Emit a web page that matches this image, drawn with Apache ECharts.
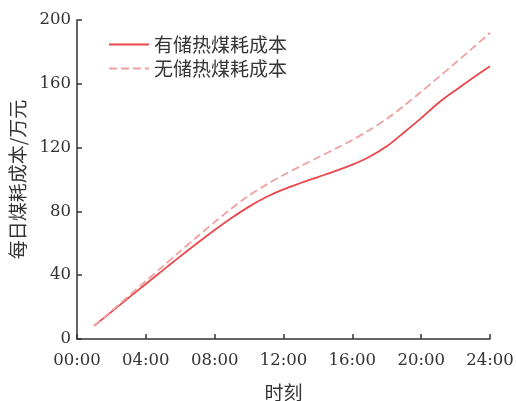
<!DOCTYPE html>
<html>
<head>
<meta charset="utf-8">
<script src="https://cdn.jsdelivr.net/npm/echarts@6/dist/echarts.min.js"></script>
<style>html,body{margin:0;padding:0;background:#fff;}#c{width:516px;height:401px;}</style>
</head>
<body>
<div id="c"></div>
<script>
const hours = [1,2,3,4,5,6,7,8,9,10,11,12,13,14,15,16,17,18,19,20,21,22,23,24];
const withStorage = [8.3,17,25.8,34.5,43.2,51.8,60.2,68.3,76,83,89,93.8,97.8,101.5,105.2,109.3,114.3,120.8,129.5,138.5,148,156,163.7,171];
const withoutStorage = [8.3,17.5,26.9,36.3,45.7,55.1,64.3,73.3,82,90,96.8,102.8,108.4,113.8,119.2,124.8,131,138,146.2,155,164,173.2,182.5,192];
const xTicks = ['00:00','04:00','08:00','12:00','16:00','20:00','24:00'];
const seriesNames = ['有储热煤耗成本','无储热煤耗成本'];

const chart = echarts.init(document.getElementById('c'));
const serif = '"DejaVu Serif",serif';
const cjk = '"Noto Sans CJK SC",sans-serif';
chart.setOption({
  animation: false,
  backgroundColor: '#fff',
  grid: {left: 77, right: 26, top: 20, bottom: 62, containLabel: false, outerBoundsMode: 'none'},
  legend: {
    orient: 'vertical', left: 103, top: 30, itemGap: 5, itemWidth: 40, itemHeight: 19,
    itemStyle: {opacity: 0},
    textStyle: {fontFamily: cjk, fontSize: 19, color: '#333'},
    data: seriesNames
  },
  xAxis: {
    type: 'value', min: 0, max: 24, interval: 4,
    name: '时刻', nameLocation: 'middle', nameGap: 44,
    nameTextStyle: {fontFamily: cjk, fontSize: 19, color: '#333'},
    axisLine: {lineStyle: {color: '#333', width: 1.5}},
    axisTick: {inside: true, length: 5, lineStyle: {color: '#333', width: 1.5}},
    axisLabel: {fontFamily: serif, fontSize: 16.5, color: '#333', margin: 13,
      formatter: v => xTicks[v / 4]},
    splitLine: {show: false}
  },
  yAxis: {
    type: 'value', min: 0, max: 200, interval: 40,
    name: '每日煤耗成本/万元', nameLocation: 'middle', nameGap: 50, nameRotate: 90,
    nameTextStyle: {fontFamily: cjk, fontSize: 19, color: '#333'},
    axisLine: {show: true, lineStyle: {color: '#333', width: 1.5}},
    axisTick: {show: true, inside: true, length: 5, lineStyle: {color: '#333', width: 1.5}},
    axisLabel: {fontFamily: serif, fontSize: 16.5, color: '#333', margin: 6},
    splitLine: {show: false}
  },
  series: [
    {name: seriesNames[0], type: 'line', smooth: 0.3, symbol: 'none',
      lineStyle: {color: '#e8484b', width: 1.8}, itemStyle: {color: '#e8484b'},
      data: hours.map((h, i) => [h, withStorage[i]])},
    {name: seriesNames[1], type: 'line', smooth: 0.3, symbol: 'none',
      lineStyle: {color: '#f0a0a0', width: 1.8, type: [8, 4]}, itemStyle: {color: '#f0a0a0'},
      data: hours.map((h, i) => [h, withoutStorage[i]])}
  ]
});
</script>
</body>
</html>
